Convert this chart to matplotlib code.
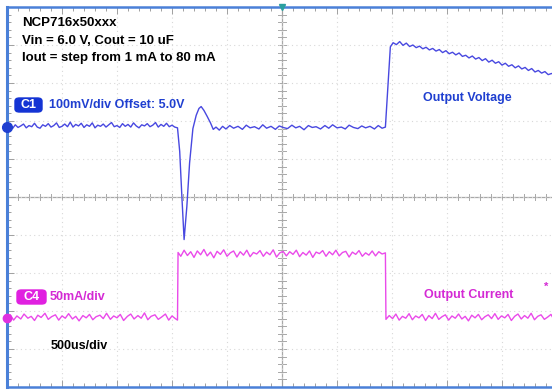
import matplotlib
matplotlib.use("Agg")
import matplotlib.pyplot as plt
import numpy as np
from matplotlib.patches import FancyBboxPatch

# ---- data (time in divisions of 500 us, amplitude in screen divisions) ----
v_time = [0.00, 0.05, 0.10, 0.15, 0.20, 0.25, 0.30, 0.35, 0.40, 0.45,
          0.50, 0.55, 0.60, 0.65, 0.70, 0.75, 0.80, 0.85, 0.90, 0.95,
          1.00, 1.05, 1.10, 1.15, 1.20, 1.25, 1.30, 1.35, 1.40, 1.45,
          1.50, 1.55, 1.60, 1.65, 1.70, 1.75, 1.80, 1.85, 1.90, 1.95,
          2.00, 2.05, 2.10, 2.15, 2.20, 2.25, 2.30, 2.35, 2.40, 2.45,
          2.50, 2.55, 2.60, 2.65, 2.70, 2.75, 2.80, 2.85, 2.90, 2.95,
          3.00, 3.05, 3.10, 3.14, 3.18, 3.22, 3.27, 3.32, 3.38, 3.44,
          3.49, 3.53, 3.58, 3.64, 3.70, 3.75, 3.80, 3.86, 3.92, 3.98,
          4.05, 4.12, 4.20, 4.28, 4.35, 4.42, 4.50, 4.58, 4.65, 4.72,
          4.80, 4.88, 4.95, 5.02, 5.10, 5.18, 5.25, 5.32, 5.40, 5.48,
          5.55, 5.62, 5.70, 5.78, 5.85, 5.92, 6.00, 6.08, 6.15, 6.22,
          6.30, 6.38, 6.45, 6.52, 6.60, 6.68, 6.75, 6.82, 6.88, 6.93,
          6.97, 7.02, 7.08, 7.14, 7.20, 7.26, 7.32, 7.38, 7.44, 7.50,
          7.56, 7.62, 7.68, 7.74, 7.80, 7.86, 7.92, 7.98, 8.04, 8.10,
          8.16, 8.22, 8.28, 8.34, 8.40, 8.46, 8.52, 8.58, 8.64, 8.70,
          8.76, 8.82, 8.88, 8.94, 9.00, 9.06, 9.12, 9.18, 9.24, 9.30,
          9.36, 9.42, 9.48, 9.54, 9.60, 9.66, 9.72, 9.78, 9.84, 9.90,
          10.0]
v_value = [1.84, 1.89, 1.80, 1.90, 1.83, 1.87, 1.92, 1.82, 1.88, 1.85,
           1.94, 1.84, 1.81, 1.90, 1.86, 1.93, 1.84, 1.88, 1.95, 1.83,
           1.86, 1.92, 1.85, 1.97, 1.84, 1.91, 1.87, 1.94, 1.83, 1.90,
           1.86, 1.95, 1.82, 1.89, 1.86, 1.92, 1.84, 1.90, 1.96, 1.85,
           1.88, 1.83, 1.93, 1.86, 1.91, 1.84, 1.95, 1.87, 1.82, 1.90,
           1.87, 1.93, 1.85, 1.89, 1.96, 1.84, 1.91, 1.86, 1.94, 1.85,
           1.89, 1.84, 1.82, 1.20, 0.00, -1.12, -0.25, 0.90, 1.80, 2.15,
           2.33, 2.38, 2.28, 2.12, 1.95, 1.78, 1.84, 1.76, 1.86, 1.79,
           1.88, 1.81, 1.86, 1.78, 1.89, 1.82, 1.85, 1.79, 1.90, 1.81,
           1.86, 1.78, 1.87, 1.83, 1.80, 1.89, 1.82, 1.86, 1.77, 1.88,
           1.83, 1.85, 1.79, 1.88, 1.81, 1.90, 1.82, 1.84, 1.79, 1.89,
           1.83, 1.80, 1.87, 1.82, 1.86, 1.79, 1.88, 1.81, 1.84, 3.00,
           3.95, 4.06, 4.01, 4.09, 3.99, 4.05, 3.96, 4.00, 3.93, 3.97,
           3.90, 3.94, 3.87, 3.91, 3.84, 3.88, 3.80, 3.85, 3.77, 3.81,
           3.74, 3.79, 3.70, 3.73, 3.66, 3.71, 3.63, 3.67, 3.59, 3.64,
           3.55, 3.60, 3.52, 3.56, 3.47, 3.52, 3.44, 3.48, 3.40, 3.45,
           3.37, 3.41, 3.33, 3.38, 3.29, 3.33, 3.26, 3.30, 3.22, 3.25,
           3.20]

i_time = [0.00, 0.06, 0.12, 0.18, 0.25, 0.31, 0.38, 0.44, 0.50, 0.56,
          0.62, 0.69, 0.75, 0.81, 0.88, 0.94, 1.00, 1.06, 1.12, 1.19,
          1.25, 1.31, 1.38, 1.44, 1.50, 1.56, 1.62, 1.69, 1.75, 1.81,
          1.88, 1.94, 2.00, 2.06, 2.12, 2.19, 2.25, 2.31, 2.38, 2.44,
          2.50, 2.56, 2.62, 2.69, 2.75, 2.81, 2.88, 2.94, 3.00, 3.06,
          3.10, 3.11, 3.16, 3.22, 3.28, 3.34, 3.40, 3.46, 3.52, 3.58,
          3.64, 3.70, 3.76, 3.82, 3.88, 3.94, 4.00, 4.06, 4.12, 4.18,
          4.24, 4.30, 4.36, 4.42, 4.48, 4.54, 4.60, 4.66, 4.72, 4.78,
          4.84, 4.90, 4.96, 5.02, 5.08, 5.14, 5.20, 5.26, 5.32, 5.38,
          5.44, 5.50, 5.56, 5.62, 5.68, 5.74, 5.80, 5.86, 5.92, 5.98,
          6.04, 6.10, 6.16, 6.22, 6.28, 6.34, 6.40, 6.46, 6.52, 6.58,
          6.64, 6.70, 6.76, 6.82, 6.88, 6.89, 6.95, 7.01, 7.07, 7.13,
          7.19, 7.25, 7.31, 7.37, 7.43, 7.49, 7.55, 7.61, 7.67, 7.73,
          7.79, 7.85, 7.91, 7.97, 8.03, 8.09, 8.15, 8.21, 8.27, 8.33,
          8.39, 8.45, 8.51, 8.57, 8.63, 8.69, 8.75, 8.81, 8.87, 8.93,
          8.99, 9.05, 9.11, 9.17, 9.23, 9.29, 9.35, 9.41, 9.47, 9.53,
          9.59, 9.65, 9.71, 9.77, 9.83, 9.89, 9.95, 10.0]
i_value = [-3.18, -3.10, -3.24, -3.13, -3.21, -3.08, -3.19, -3.14, -3.25, -3.11,
           -3.17, -3.06, -3.22, -3.15, -3.10, -3.24, -3.13, -3.19, -3.07, -3.21,
           -3.14, -3.26, -3.12, -3.18, -3.09, -3.23, -3.15, -3.11, -3.20, -3.06,
           -3.22, -3.13, -3.18, -3.09, -3.25, -3.14, -3.08, -3.21, -3.12, -3.19,
           -3.05, -3.23, -3.14, -3.10, -3.22, -3.16, -3.08, -3.24, -3.13, -3.20,
           -3.24, -1.46, -1.56, -1.40, -1.54, -1.44, -1.59, -1.42, -1.52, -1.38,
           -1.55, -1.45, -1.60, -1.43, -1.51, -1.39, -1.56, -1.47, -1.42, -1.58,
           -1.44, -1.53, -1.40, -1.57, -1.46, -1.50, -1.41, -1.56, -1.45, -1.52,
           -1.39, -1.58, -1.47, -1.43, -1.55, -1.44, -1.51, -1.40, -1.57, -1.46,
           -1.53, -1.42, -1.59, -1.45, -1.49, -1.41, -1.56, -1.44, -1.52, -1.40,
           -1.55, -1.46, -1.43, -1.58, -1.45, -1.51, -1.41, -1.56, -1.47, -1.53,
           -1.42, -1.55, -1.44, -1.50, -1.47, -3.22, -3.12, -3.20, -3.08, -3.24,
           -3.14, -3.19, -3.07, -3.23, -3.13, -3.18, -3.09, -3.25, -3.12, -3.20,
           -3.06, -3.22, -3.15, -3.10, -3.24, -3.13, -3.19, -3.08, -3.21, -3.14,
           -3.26, -3.11, -3.18, -3.09, -3.23, -3.15, -3.10, -3.20, -3.07, -3.22,
           -3.13, -3.18, -3.09, -3.25, -3.14, -3.08, -3.21, -3.12, -3.19, -3.06,
           -3.23, -3.14, -3.10, -3.22, -3.16, -3.09, -3.24, -3.17]

BLUE_TR = "#4848e0"
MAG_TR = "#ea4aea"
BLUE_TXT = "#1f3fd0"
MAG_TXT = "#d42ad4"
FRAME = "#4a80d8"

W, H = 552, 390
fig = plt.figure(figsize=(W / 100, H / 100), dpi=100)
fig.patch.set_facecolor("white")

# axes: left edge px 7, top px 7, bottom px 387, right px 557 (cut off)
ax = fig.add_axes([7 / W, (H - 387) / H, 550 / W, 380 / H])
ax.set_xlim(0, 10)
ax.set_ylim(-5, 5)
ax.set_facecolor("white")

# grid
ax.set_xticks(np.arange(0, 11, 1))
ax.set_yticks(np.arange(-5, 6, 1))
ax.set_xticks(np.arange(0, 10.01, 0.2), minor=True)
ax.set_yticks(np.arange(-5, 5.01, 0.2), minor=True)
ax.grid(which="major", color="#d8d8d8", linestyle=(0, (1, 3)), linewidth=0.8)
ax.tick_params(which="both", direction="in", labelleft=False, labelbottom=False,
               top=True, right=False, color="#a0a0a0", width=0.7)
ax.tick_params(which="major", length=5)
ax.tick_params(which="minor", length=3)

# center crosshair
ax.axhline(0, color="#a8a8a8", lw=0.9, zorder=1)
ax.axvline(5, color="#a8a8a8", lw=0.9, zorder=1)
for t in np.arange(0, 10.01, 0.2):
    ax.plot([t, t], [-0.07, 0.07], color="#a8a8a8", lw=0.7, zorder=1)
for t in np.arange(-5, 5.01, 0.2):
    ax.plot([4.93, 5.07], [t, t], color="#a8a8a8", lw=0.7, zorder=1)

for side in ["left", "top", "bottom"]:
    ax.spines[side].set_color(FRAME)
ax.spines["left"].set_linewidth(2.2)
ax.spines["top"].set_linewidth(1.8)
ax.spines["bottom"].set_linewidth(1.8)
ax.spines["right"].set_visible(False)

# traces
ax.plot(v_time, v_value, color=BLUE_TR, lw=1.0, zorder=3)
ax.plot(i_time, i_value, color=MAG_TR, lw=1.0, zorder=3)

# ground markers
ax.plot([0], [v_value[0]], marker="o", ms=7, color="#1f3fd0", clip_on=False, zorder=5)
ax.plot([0], [i_value[0]], marker="o", ms=6, color="#e030e0", clip_on=False, zorder=5)
# trigger marker
ax.plot([5], [5], marker="v", ms=5, color="#2aa0a0", clip_on=False, zorder=5)


def ft(x, y, s, **kw):
    fig.text(x / W, 1 - y / H, s, va="center", ha="left",
             family="Liberation Sans", fontweight="bold", **kw)


ft(22, 23, "NCP716x50xxx", fontsize=9.5, color="black")
ft(22, 41, "Vin = 6.0 V, Cout = 10 uF", fontsize=9.5, color="black")
ft(22, 58, "Iout = step from 1 mA to 80 mA", fontsize=9.5, color="black")


# badges
def badge(x0, y0, w, h, col, label):
    p = FancyBboxPatch((x0 / W, 1 - (y0 + h) / H), w / W, h / H,
                       boxstyle="round,pad=0,rounding_size=0.008",
                       transform=fig.transFigure, facecolor=col, edgecolor=col,
                       zorder=6)
    fig.patches.append(p)
    fig.text((x0 + w / 2) / W, 1 - (y0 + h / 2) / H, label, color="white",
             ha="center", va="center", family="Liberation Sans",
             fontweight="bold", fontsize=9, zorder=7)


badge(15, 98, 27, 14, "#1434d4", "C1")
ft(49, 105, "100mV/div Offset: 5.0V", fontsize=9, color=BLUE_TXT)
ft(423, 98, "Output Voltage", fontsize=9, color=BLUE_TXT)

badge(17, 290, 29, 14, "#e020e0", "C4")
ft(50, 297, "50mA/div", fontsize=9, color=MAG_TXT)
ft(424, 295, "Output Current", fontsize=9, color=MAG_TXT)
ft(51, 346, "500us/div", fontsize=9, color="black")
ft(544, 287, "*", fontsize=8, color=MAG_TXT)

fig.savefig("out.png", dpi=100)
